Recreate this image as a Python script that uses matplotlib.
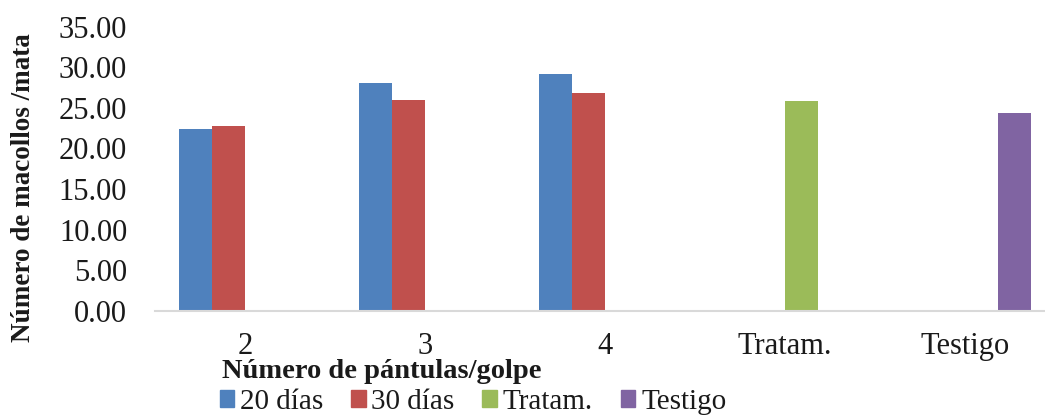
import numpy as np
import matplotlib
matplotlib.use('Agg')
import matplotlib.pyplot as plt
from matplotlib.patches import Patch

plt.rcParams['font.family'] = ['Liberation Serif', 'DejaVu Serif']

# tillers per plant by number of seedlings per hill
categories = ['2', '3', '4', 'Tratam.', 'Testigo']
dias_20 = [22.4, 28.1, 29.2, np.nan, np.nan]
dias_30 = [22.7, 26.0, 26.8, np.nan, np.nan]
tratam = [np.nan, np.nan, np.nan, 25.8, np.nan]
testigo = [np.nan, np.nan, np.nan, np.nan, 24.4]

series_names = ['20 días', '30 días', 'Tratam.', 'Testigo']
colors = ['#4F81BD', '#C0504D', '#9BBB59', '#8064A2']
yticks = [0, 5, 10, 15, 20, 25, 30, 35]

W, H = 1045, 415
fig = plt.figure(figsize=(W / 100, H / 100), dpi=100)
ax = fig.add_axes([155 / W, (H - 311) / H, 900 / W, 284.5 / H])

x = np.arange(len(categories))
width = 0.183
for i, (vals, col) in enumerate(zip([dias_20, dias_30, tratam, testigo], colors)):
    ax.bar(x + (i - 1.5) * width, vals, width, color=col, linewidth=0)

ax.set_xlim(-0.5, len(categories) - 0.5)
ax.set_ylim(0, 35)
ax.set_yticks(yticks)
ax.set_yticklabels([f'{v:.2f}' for v in yticks])
ax.set_xticks(x)
ax.set_xticklabels(categories)
ax.tick_params(axis='both', length=0, labelsize=22, colors='#1a1a1a')
ax.tick_params(axis='y', pad=20)
ax.tick_params(axis='x', pad=15)

for side in ['left', 'top', 'right']:
    ax.spines[side].set_visible(False)
ax.spines['bottom'].set_color('#d9d9d9')
ax.spines['bottom'].set_linewidth(1.5)

fig.text(24 / W, 1 - 188 / H, 'Número de macollos /mata', rotation=90,
         ha='center', va='center', fontsize=19.5, fontweight='bold', color='#1a1a1a')
fig.text(382 / W, 1 - 371 / H, 'Número de pántulas/golpe',
         ha='center', va='center', fontsize=20.5, fontweight='bold', color='#1a1a1a')

handles = [Patch(color=c, label=n) for c, n in zip(colors, series_names)]
fig.legend(handles=handles, loc='center', bbox_to_anchor=(473 / W, 1 - 402 / H),
           ncol=4, frameon=False, fontsize=21, handlelength=0.5, handleheight=0.5,
           handletextpad=0.2, columnspacing=0.95, labelcolor='#1a1a1a')

plt.savefig('out.png', dpi=100)
